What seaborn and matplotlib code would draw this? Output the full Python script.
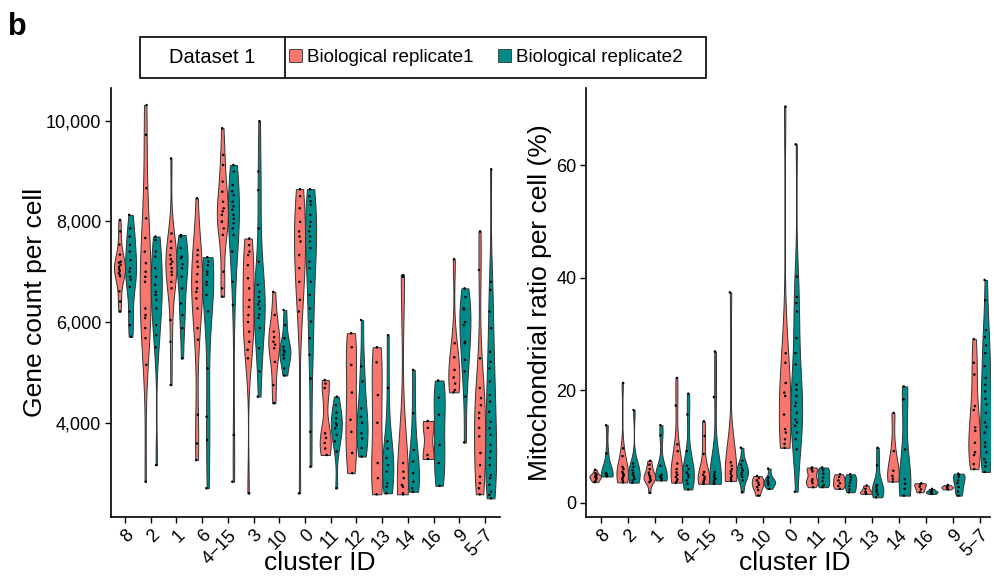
import numpy as np
import pandas as pd
import matplotlib
matplotlib.use("Agg")
import matplotlib.pyplot as plt
from matplotlib.patches import Patch, Rectangle
from matplotlib.lines import Line2D
from matplotlib.ticker import FuncFormatter
import seaborn as sns

CLUSTERS = ["8", "2", "1", "6", "4\u221215", "3", "10", "0", "11", "12", "13", "14", "16", "9", "5\u22127"]
REPS = ["Biological replicate1", "Biological replicate2"]
COLORS = ["#F8766D", "#008B8B"]

GENE_REP1 = {
    "8": [8030, 7800, 7540, 7340, 7200, 7140, 7100, 7050, 7180, 7010, 6970, 6940, 6910, 6610, 6410, 6210],
    "2": [10310, 9720, 8660, 8060, 7670, 7400, 7170, 7000, 6900, 6800, 6270, 6140, 6080, 5880, 5680, 5150, 2830],
    "1": [9250, 7760, 7600, 7470, 7330, 7250, 7200, 7150, 7070, 7000, 6940, 6800, 6670, 6040, 5610, 4750],
    "6": [8460, 7430, 7330, 7200, 7100, 6950, 6800, 6670, 6600, 6470, 6270, 5880, 5650, 4160, 3590, 3260],
    "4\u221215": [9850, 9320, 9120, 8790, 8590, 8390, 8260, 8200, 8130, 8000, 7990, 7860, 7730, 7000, 6670, 6505],
    "3": [7660, 7530, 7400, 7330, 7130, 6870, 6670, 6440, 6300, 6140, 6000, 5810, 5610, 5450, 5280, 2600],
    "10": [6600, 6140, 5810, 5700, 5610, 5550, 5480, 5210, 4750, 4390],
    "0": [8640, 8500, 8260, 7990, 7800, 7700, 7600, 7330, 7070, 6800, 6440, 6210, 2600],
    "11": [4850, 4780, 4690, 3790, 3700, 3600, 3490, 3360],
    "12": [5780, 5500, 5150, 4600, 4060, 3820, 3400, 3000],
    "13": [5500, 5200, 4550, 4000, 3200, 2900, 2580],
    "14": [6935, 6900, 3200, 3030, 2900, 2765, 2730, 2600, 2580],
    "16": [4036, 3900, 3360, 3281],
    "9": [7250, 5580, 5300, 5050, 4900, 4780, 4650, 4605],
    "5\u22127": [7800, 7035, 5280, 4690, 4490, 4350, 4200, 4090, 3900, 3730, 3400, 3160, 2930, 2800, 2700, 2580],
}
GENE_REP2 = {
    "8": [8130, 7860, 7700, 7530, 7400, 7230, 7070, 7000, 6900, 6840, 6700, 6210, 5940, 5710],
    "2": [7700, 7630, 7400, 7300, 7070, 6900, 6740, 6600, 6540, 6440, 6270, 5940, 5740, 5500, 3160],
    "1": [7730, 7700, 7470, 7300, 7270, 7150, 7070, 6900, 6670, 6370, 6140, 5880, 5280],
    "6": [7290, 7200, 7130, 7000, 6940, 6800, 6740, 6540, 6210, 5080, 4120, 3660, 2700],
    "4\u221215": [9120, 8990, 8720, 8600, 8520, 8390, 8300, 8230, 8130, 8050, 7960, 7860, 7730, 7400, 6800, 6340, 3760, 2830],
    "3": [9990, 8990, 8620, 7860, 7200, 6740, 6600, 6500, 6410, 6350, 6270, 6150, 6080, 5880, 5480, 5020, 4520],
    "10": [6240, 5940, 5680, 5510, 5450, 5410, 5350, 5280, 5080, 4940],
    "0": [8640, 8500, 8400, 8330, 8130, 7990, 7900, 7800, 7700, 7600, 7470, 7200, 7070, 6800, 6540, 6270, 6010, 5680, 5350, 4880, 3820, 3130],
    "11": [4520, 4350, 4200, 4090, 3990, 3950, 3890, 3760, 3630, 3430, 2700],
    "12": [6040, 5120, 4820, 4290, 4120, 4000, 3790, 3690, 3500, 3330],
    "13": [5740, 4690, 3630, 3490, 3300, 3160, 3030, 2800, 2730, 2600],
    "14": [5050, 4190, 3460, 3230, 3000, 2830, 2700, 2630],
    "16": [4840, 4500, 4160, 3560, 3200, 2750],
    "9": [6670, 6500, 6270, 6250, 6000, 5940, 5610, 5580, 5250, 5020, 4520, 3610],
    "5\u22127": [9035, 6800, 6640, 6210, 5880, 5410, 5210, 5080, 4820, 4550, 4420, 4220, 4020, 3890,
               3760, 3560, 3430, 3300, 3160, 2960, 2900, 2770, 2630, 2570, 2500],
}
MITO_REP1 = {
    "8": [5.9, 5.3, 5.0, 4.8, 4.7, 4.6, 4.4, 4.2, 3.9, 3.7],
    "2": [21.3, 9.7, 8.3, 6.4, 6.0, 5.5, 5.2, 5.0, 4.8, 4.5, 4.2, 3.9, 3.65],
    "1": [7.5, 6.8, 6.0, 5.4, 5.0, 4.7, 4.5, 4.2, 4.0, 3.7, 1.8],
    "6": [22.2, 17.3, 10.4, 9.2, 7.0, 6.0, 5.4, 5.0, 4.6, 4.2, 3.9, 3.6],
    "4\u221215": [14.5, 11.9, 8.7, 5.5, 5.0, 4.6, 4.3, 4.0, 3.7, 3.4],
    "3": [37.4, 7.2, 6.6, 6.0, 5.6, 5.2, 4.8, 4.5, 4.2, 3.9],
    "10": [4.8, 4.4, 4.0, 3.6, 3.2, 2.8, 2.3, 1.3],
    "0": [70.4, 26.6, 24.9, 21.3, 19.6, 19.0, 15.7, 13.1, 12.5, 11.3, 10.5, 9.8],
    "11": [6.3, 6.0, 5.6, 4.2, 3.9, 3.5, 2.8],
    "12": [5.1, 4.6, 4.0, 3.5, 3.0, 2.5],
    "13": [3.1, 2.5, 2.0, 1.8, 1.6],
    "14": [16.0, 9.2, 5.7, 4.8, 4.3, 3.8],
    "16": [3.5, 3.3, 2.9, 2.4, 1.9],
    "9": [3.2, 2.9, 2.8, 2.6, 2.4],
    "5\u22127": [29.1, 24.9, 22.8, 17.2, 16.5, 13.4, 12.8, 10.7, 9.0, 8.5, 6.9, 6.0],
}
MITO_REP2 = {
    "8": [13.8, 8.8, 5.3, 5.2, 5.1, 5.0, 4.9, 4.7],
    "2": [16.5, 7.0, 6.4, 5.8, 5.3, 5.0, 4.7, 4.3, 4.0, 3.6],
    "1": [13.8, 12.0, 6.6, 5.0, 4.8, 4.7, 4.5, 4.3, 4.0],
    "6": [19.4, 15.7, 9.2, 6.6, 6.0, 5.4, 5.0, 4.6, 4.0, 3.4, 2.4],
    "4\u221215": [26.9, 18.8, 5.5, 5.0, 4.8, 4.5, 4.3, 4.0, 3.7, 3.4],
    "3": [9.8, 7.5, 6.8, 6.2, 5.8, 5.4, 5.0, 4.6, 4.0, 1.9],
    "10": [6.1, 4.5, 4.0, 3.7, 3.5, 3.2, 2.5],
    "0": [63.7, 40.2, 36.6, 35.5, 34.0, 29.3, 26.6, 24.6, 21.0, 20.1, 19.0, 17.8, 17.2, 16.0,
          14.8, 14.3, 13.7, 12.5, 11.3, 9.5, 2.0],
    "11": [6.3, 5.8, 5.2, 4.5, 3.9, 3.2, 2.8],
    "12": [5.1, 4.6, 4.1, 3.6, 3.0, 2.4, 1.9],
    "13": [9.8, 6.7, 3.2, 2.8, 2.4, 2.0, 1.5, 1.0],
    "14": [20.7, 18.4, 9.5, 4.2, 3.4, 2.5, 1.3],
    "16": [2.5, 2.1, 2.0, 1.8, 1.6],
    "9": [5.2, 5.0, 4.6, 4.0, 3.5, 2.8, 2.0, 1.3],
    "5\u22127": [39.6, 36.0, 30.7, 29.5, 28.0, 26.6, 24.3, 22.2, 21.0, 19.8, 18.5, 17.5, 16.0,
               14.3, 13.5, 12.5, 10.7, 10.0, 9.0, 7.8, 7.2, 6.5, 5.5],
}

GENE_TICKS = [4000, 6000, 8000, 10000]
MITO_TICKS = [0, 20, 40, 60]


def long_frame(rep1, rep2):
    rows = []
    for rep, d in zip(REPS, [rep1, rep2]):
        for c in CLUSTERS:
            for v in d[c]:
                rows.append((c, rep, v))
    return pd.DataFrame(rows, columns=["cluster", "rep", "value"])


sns.set_style("white")
plt.rcParams["font.family"] = ["Liberation Sans", "DejaVu Sans"]
plt.rcParams["text.color"] = "black"
plt.rcParams["axes.labelcolor"] = "black"
plt.rcParams["xtick.color"] = "black"
plt.rcParams["ytick.color"] = "black"

W, H = 995, 577
fig = plt.figure(figsize=(W / 100, H / 100), dpi=100)


def px_axes(x0, y0, x1, y1):
    return fig.add_axes([x0 / W, 1 - y1 / H, (x1 - x0) / W, (y1 - y0) / H])


ax1 = px_axes(111, 88, 500, 517)
ax2 = px_axes(586, 88, 990, 517)

palette = dict(zip(REPS, COLORS))
black = {r: "black" for r in REPS}

np.random.seed(3)
for ax, df in [(ax1, long_frame(GENE_REP1, GENE_REP2)), (ax2, long_frame(MITO_REP1, MITO_REP2))]:
    sns.violinplot(data=df, x="cluster", y="value", hue="rep", order=CLUSTERS, hue_order=REPS,
                   palette=palette, density_norm="width", cut=0, inner=None, linewidth=0.7,
                   linecolor="#333333", width=0.86, bw_adjust=0.8, saturation=1, legend=False, ax=ax)
    sns.stripplot(data=df, x="cluster", y="value", hue="rep", order=CLUSTERS, hue_order=REPS,
                  palette=black, dodge=True, jitter=0.08, size=1.8, legend=False, ax=ax)

ax1.set_xlim(-0.545, 14.58)
ax1.set_ylim(2129, 10649)
ax1.set_yticks(GENE_TICKS)
ax1.yaxis.set_major_formatter(FuncFormatter(lambda v, p: f"{int(v):,}"))
ax1.set_ylabel("Gene count per cell", fontsize=19, va="center")
ax1.yaxis.set_label_coords(-0.195, 0.5)

ax2.set_xlim(-0.554, 14.37)
ax2.set_ylim(-2.5, 73.7)
ax2.set_yticks(MITO_TICKS)
ax2.set_ylabel("Mitochondrial ratio per cell (%)", fontsize=19, va="center")
ax2.yaxis.set_label_coords(-0.114, 0.5)

for ax, xc in ((ax1, 0.537), (ax2, 0.517)):
    ax.set_xlabel("cluster ID", fontsize=19, va="center")
    ax.xaxis.set_label_coords(xc, -0.107)
    ax.set_xticks(range(len(CLUSTERS)))
    ax.set_xticklabels(CLUSTERS, rotation=45, ha="right", rotation_mode="anchor", fontsize=13)
    ax.tick_params(axis="y", labelsize=13)
    ax.tick_params(axis="both", direction="out", length=4, width=1, color="black",
                   labelcolor="black", pad=3, bottom=True, left=True)
    for s in ["top", "right"]:
        ax.spines[s].set_visible(False)
    for s in ["left", "bottom"]:
        ax.spines[s].set_color("black")
        ax.spines[s].set_linewidth(1.2)
    ax.grid(False)

# legend box
fig.add_artist(Rectangle((140 / W, 1 - 78 / H), 566 / W, 41 / H, transform=fig.transFigure,
                         fill=False, edgecolor="black", linewidth=1.2))
fig.add_artist(Line2D([285 / W, 285 / W], [1 - 78 / H, 1 - 37 / H], transform=fig.transFigure,
                      color="black", linewidth=1.2))
fig.text(212 / W, 1 - 57.5 / H, "Dataset 1", ha="center", va="center", fontsize=14.5, color="black")
handles = [Patch(facecolor=c, edgecolor="#333333", linewidth=0.6) for c in COLORS]
fig.legend(handles, REPS, loc="center left", bbox_to_anchor=(289 / W, 1 - 57.5 / H), ncol=2,
           frameon=False, fontsize=13.6, handlelength=0.7, handleheight=0.7, handletextpad=0.25,
           columnspacing=1.3, borderaxespad=0, borderpad=0, labelcolor="black")

fig.text(8 / W, 1 - 27 / H, "b", fontsize=22, fontweight="bold", ha="left", va="center", color="black")

fig.savefig("out.png", dpi=100)
